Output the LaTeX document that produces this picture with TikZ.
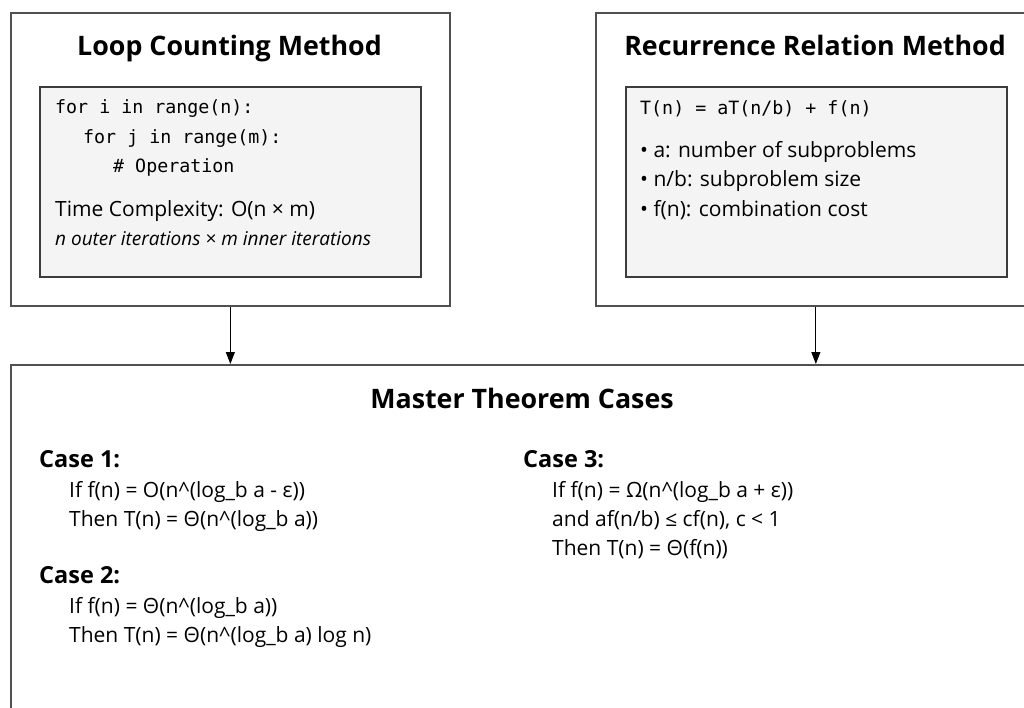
\documentclass[tikz,border=0pt]{standalone}
\usepackage{fontspec}
\setmainfont{Open Sans}
\newfontfamily\codefont{DejaVu Sans Mono}
\usetikzlibrary{arrows.meta}
\definecolor{framegray}{HTML}{505050}
\definecolor{panelfill}{HTML}{F4F4F4}
\definecolor{paneledge}{HTML}{3C3C3C}
\tikzset{
  outerbox/.style={draw=framegray, line width=1.7pt, fill=white, inner sep=0pt, anchor=north west},
  panel/.style={draw=paneledge, line width=1.7pt, fill=panelfill, inner sep=0pt, anchor=north west},
  heading/.style={font=\fontsize{26.8}{32}\selectfont\bfseries, inner sep=0pt, anchor=base},
  codeline/.style={font=\codefont\fontsize{18.3}{22}\selectfont, inner sep=0pt, anchor=base west},
  body/.style={font=\fontsize{21}{25}\selectfont, inner sep=0pt, anchor=base west},
  note/.style={font=\fontsize{19}{23}\selectfont\itshape, inner sep=0pt, anchor=base west},
  casehead/.style={font=\fontsize{23.5}{28}\selectfont\bfseries, inner sep=0pt, anchor=base west},
  link/.style={draw=black, line width=1pt, -{Triangle[length=12pt,width=9pt]}},
}
\begin{document}
\begin{tikzpicture}[x=1pt,y=-1pt]
\useasboundingbox (0,0) rectangle (1024,708);

% frames
\node[outerbox, minimum width=439pt, minimum height=293pt] (loop) at (10,12) {};
\node[outerbox, minimum width=440pt, minimum height=293pt] (recur) at (595,12) {};
\node[outerbox, minimum width=1024pt, minimum height=400pt] (master) at (10,364) {};

% inner panels
\node[panel, minimum width=381pt, minimum height=190pt] (looppanel) at (39,86) {};
\node[panel, minimum width=381pt, minimum height=190pt] (recurpanel) at (625,86) {};

% headings
\node[heading] (looptitle) at (229.5,56) {Loop Counting Method};
\node[heading] (recurtitle) at (815,56) {Recurrence Relation Method};
\node[heading] (mastertitle) at (522,408) {Master Theorem Cases};

% loop counting panel
\node[codeline] (code1) at (55,114) {for i in range(n):};
\node[codeline] (code2) at (83,144) {for j in range(m):};
\node[codeline] (code3) at (113,173) {\# Operation};
\node[body] (tc) at (55,217) {Time Complexity: O(n × m)};
\node[note] (tcnote) at (55,246) {n outer iterations × m inner iterations};

% recurrence panel
\node[codeline] (rec) at (640,115) {T(n) = aT(n/b) + f(n)};
\node[body] (ba) at (640,158) {• a: number of subproblems};
\node[body] (bb) at (640,187) {• n/b: subproblem size};
\node[body] (bc) at (640,217) {• f(n): combination cost};

% master theorem cases
\node[casehead] (c1) at (39,467) {Case 1:};
\node[body] (c1a) at (69,497) {If f(n) = O(n\textasciicircum(log\_b a - ε))};
\node[body] (c1b) at (69,526) {Then T(n) = Θ(n\textasciicircum(log\_b a))};
\node[casehead] (c2) at (39,583) {Case 2:};
\node[body] (c2a) at (69,613) {If f(n) = Θ(n\textasciicircum(log\_b a))};
\node[body] (c2b) at (69,642) {Then T(n) = Θ(n\textasciicircum(log\_b a) log n)};
\node[casehead] (c3) at (523,467) {Case 3:};
\node[body] (c3a) at (552,497) {If f(n) = Ω(n\textasciicircum(log\_b a + ε))};
\node[body] (c3b) at (552,526) {and af(n/b) ≤ cf(n), c < 1};
\node[body] (c3c) at (552,555) {Then T(n) = Θ(f(n))};

% connectors
\draw[link] (loop.south) -- (loop.south |- master.north);
\draw[link] (recur.south) -- (recur.south |- master.north);
\end{tikzpicture}
\end{document}
